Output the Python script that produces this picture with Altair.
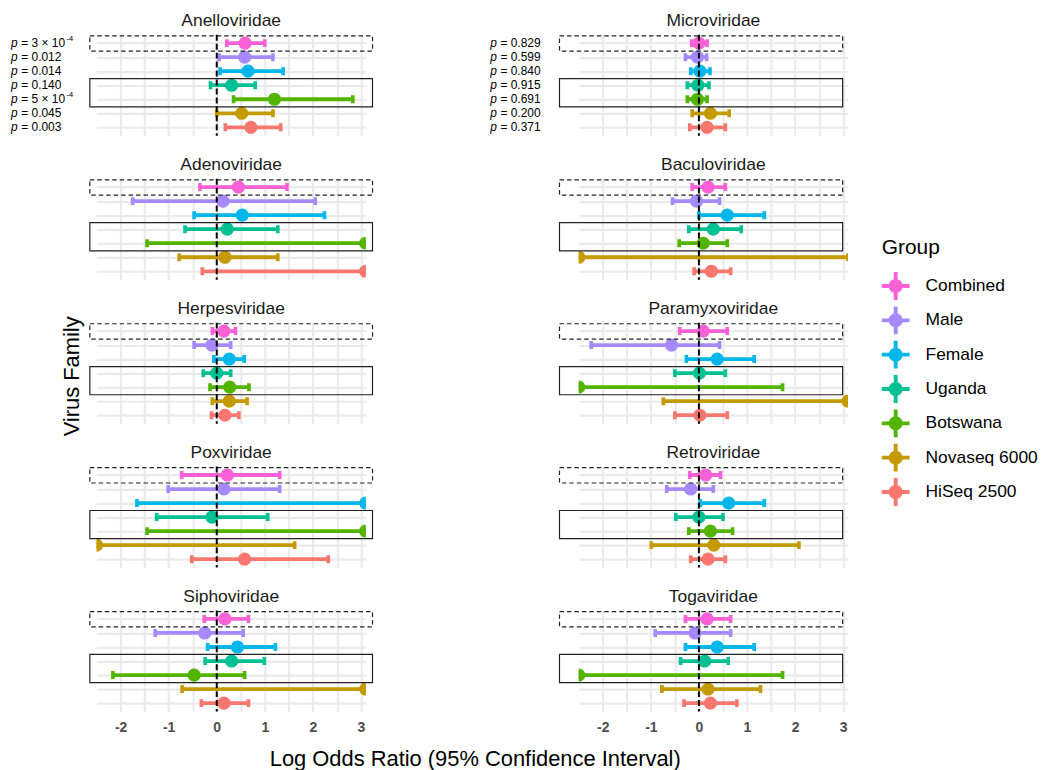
import altair as alt
import pandas as pd

FONT = "Liberation Sans"

groups = ["Combined", "Male", "Female", "Uganda", "Botswana", "Novaseq 6000", "HiSeq 2500"]
colors = ["#FB61D7", "#A58AFF", "#00B6EB", "#00C094", "#53B400", "#C49A00", "#F8766D"]

left_families = ["Anelloviridae", "Adenoviridae", "Herpesviridae", "Poxviridae", "Siphoviridae"]
right_families = ["Microviridae", "Baculoviridae", "Paramyxoviridae", "Retroviridae", "Togaviridae"]

# estimates / lower / upper (log odds ratio), order = groups; values drawn clipped to [-2.5, 3.1]
anelloviridae_est = [0.59, 0.58, 0.65, 0.31, 1.20, 0.52, 0.71]
anelloviridae_lo = [0.21, 0.05, 0.07, -0.13, 0.35, 0.00, 0.18]
anelloviridae_hi = [1.00, 1.17, 1.38, 0.80, 2.83, 1.17, 1.33]

microviridae_est = [0.00, -0.03, 0.02, -0.02, -0.03, 0.24, 0.17]
microviridae_lo = [-0.15, -0.28, -0.17, -0.24, -0.24, -0.14, -0.19]
microviridae_hi = [0.17, 0.16, 0.23, 0.21, 0.17, 0.63, 0.55]

adenoviridae_est = [0.45, 0.13, 0.53, 0.22, 3.1, 0.17, 3.1]
adenoviridae_lo = [-0.35, -1.75, -0.47, -0.66, -1.45, -0.78, -0.30]
adenoviridae_hi = [1.46, 2.05, 2.24, 1.27, 3.1, 1.27, 3.1]

baculoviridae_est = [0.19, -0.05, 0.59, 0.30, 0.09, -2.5, 0.26]
baculoviridae_lo = [-0.14, -0.55, 0.00, -0.21, -0.41, -2.5, -0.10]
baculoviridae_hi = [0.55, 0.43, 1.36, 0.88, 0.59, 3.1, 0.66]

herpesviridae_est = [0.15, -0.10, 0.26, 0.00, 0.27, 0.26, 0.17]
herpesviridae_lo = [-0.09, -0.47, -0.06, -0.28, -0.14, -0.09, -0.11]
herpesviridae_hi = [0.39, 0.29, 0.57, 0.29, 0.67, 0.63, 0.46]

paramyxoviridae_est = [0.09, -0.57, 0.38, 0.01, -2.5, 3.1, 0.02]
paramyxoviridae_lo = [-0.40, -2.24, -0.26, -0.50, -2.5, -0.74, -0.50]
paramyxoviridae_hi = [0.59, 0.43, 1.15, 0.55, 1.74, 3.1, 0.59]

poxviridae_est = [0.22, 0.15, 3.1, -0.10, 3.1, -2.5, 0.58]
poxviridae_lo = [-0.73, -1.01, -1.66, -1.25, -1.45, -2.5, -0.52]
poxviridae_hi = [1.31, 1.31, 3.1, 1.06, 3.1, 1.62, 2.32]

retroviridae_est = [0.14, -0.17, 0.62, 0.00, 0.24, 0.31, 0.19]
retroviridae_lo = [-0.19, -0.67, 0.03, -0.48, -0.21, -0.99, -0.17]
retroviridae_hi = [0.45, 0.30, 1.36, 0.50, 0.70, 2.08, 0.55]

siphoviridae_est = [0.17, -0.25, 0.43, 0.31, -0.47, 3.1, 0.15]
siphoviridae_lo = [-0.26, -1.28, -0.19, -0.24, -2.16, -0.72, -0.32]
siphoviridae_hi = [0.66, 0.55, 1.22, 0.99, 0.58, 3.1, 0.66]

togaviridae_est = [0.17, -0.08, 0.38, 0.12, -2.5, 0.19, 0.24]
togaviridae_lo = [-0.28, -0.91, -0.28, -0.38, -2.5, -0.77, -0.31]
togaviridae_hi = [0.66, 0.66, 1.15, 0.61, 1.74, 1.28, 0.79]

anelloviridae_p = ["3 × 10^-4", "0.012", "0.014", "0.140", "5 × 10^-4", "0.045", "0.003"]
microviridae_p = ["0.829", "0.599", "0.840", "0.915", "0.691", "0.200", "0.371"]

series = {
    "Anelloviridae": (anelloviridae_est, anelloviridae_lo, anelloviridae_hi),
    "Microviridae": (microviridae_est, microviridae_lo, microviridae_hi),
    "Adenoviridae": (adenoviridae_est, adenoviridae_lo, adenoviridae_hi),
    "Baculoviridae": (baculoviridae_est, baculoviridae_lo, baculoviridae_hi),
    "Herpesviridae": (herpesviridae_est, herpesviridae_lo, herpesviridae_hi),
    "Paramyxoviridae": (paramyxoviridae_est, paramyxoviridae_lo, paramyxoviridae_hi),
    "Poxviridae": (poxviridae_est, poxviridae_lo, poxviridae_hi),
    "Retroviridae": (retroviridae_est, retroviridae_lo, retroviridae_hi),
    "Siphoviridae": (siphoviridae_est, siphoviridae_lo, siphoviridae_hi),
    "Togaviridae": (togaviridae_est, togaviridae_lo, togaviridae_hi),
}
pvalues = {"Anelloviridae": anelloviridae_p, "Microviridae": microviridae_p}

n = len(groups)

W, H = 270.5, 101.5
GRID = "#EBEBEB"
xscale = alt.Scale(domain=[-2.5, 3.1], nice=False, zero=False)
yscale = alt.Scale(domain=[0.4, 7.6], nice=False, zero=False)
grid_vals = [-2.0, -1.5, -1.0, -0.5, 0.0, 0.5, 1.0, 1.5, 2.0, 2.5, 3.0]

CROSS = ("M-1,-0.14H1V0.14H-1Z M-0.14,-1H0.14V1H-0.14Z "
         "M0.5,0A0.5,0.5 0 1,1 -0.5,0A0.5,0.5 0 1,1 0.5,0Z")


def x_axis(show_labels):
    kw = dict(values=grid_vals, grid=True, gridColor=GRID, gridWidth=2.2,
              ticks=False, domain=False, title=None, labels=show_labels)
    if show_labels:
        kw.update(labelExpr="datum.value % 1 == 0 ? (datum.value < 0 ? '-' : '') + abs(datum.value) : ''",
                  labelFont=FONT, labelFontSize=14, labelFontWeight="bold",
                  labelColor="#4D4D4D", labelPadding=9.5, labelOverlap=False, labelFlush=False)
    return alt.Axis(**kw)


y_axis = alt.Axis(values=[1, 2, 3, 4, 5, 6, 7], grid=True, gridColor=GRID, gridWidth=2.2,
                  ticks=False, domain=False, labels=False, title=None)


def panel(fam, col, bottom, first):
    est, lo, hi = series[fam]
    xa = x_axis(bottom)
    d = pd.DataFrame({
        "group": groups,
        "row": [n - i for i in range(n)],
        "est": est, "lo": lo, "hi": hi,
        "hex": colors,
    })

    def X(field):
        return alt.X(field, scale=xscale, axis=xa)

    def Y(field):
        return alt.Y(field, scale=yscale, axis=y_axis)

    base = alt.Chart(d)
    bars = base.mark_rule(strokeWidth=3.8, clip=True).encode(
        x=X("lo:Q"), x2="hi:Q", y=Y("row:Q"),
        color=alt.Color("hex:N", scale=None),
    )
    caps = base.transform_fold(["lo", "hi"], as_=["end", "xv"]).mark_tick(
        orient="vertical", size=8, thickness=3.7, opacity=1, clip=True).encode(
        x=X("xv:Q"), y=Y("row:Q"),
        color=alt.Color("hex:N", scale=None),
    )
    pts = base.mark_circle(size=175, opacity=1, clip=True).encode(
        x=X("est:Q"), y=Y("row:Q"),
        color=alt.Color("group:N", scale=alt.Scale(domain=groups, range=colors),
                        legend=alt.Legend(title="Group", symbolType=CROSS, symbolSize=784,
                                          symbolStrokeWidth=0, symbolOpacity=1)),
    )
    one = alt.Chart(alt.Data(values=[{"v": 0}]))
    bx1, bx2 = (-2.64, 3.24) if col == 0 else (-2.9, 2.99)
    dashed_box = one.mark_rect(fillOpacity=0, stroke="#222222", strokeWidth=1.2,
                               strokeDash=[4.5, 3], clip=False).encode(
        x=alt.X(datum=bx1, scale=xscale, axis=xa), x2=alt.X2(datum=bx2),
        y=alt.Y(datum=6.43, scale=yscale, axis=y_axis), y2=alt.Y2(datum=7.52))
    solid_box = one.mark_rect(fillOpacity=0, stroke="#222222", strokeWidth=1.2, clip=False).encode(
        x=alt.X(datum=bx1, scale=xscale, axis=xa), x2=alt.X2(datum=bx2),
        y=alt.Y(datum=2.46, scale=yscale, axis=y_axis), y2=alt.Y2(datum=4.47))
    zero = one.mark_rule(color="black", strokeWidth=2, strokeDash=[6, 3]).encode(
        x=X("v:Q"))
    title = one.mark_text(text=fam, font=FONT, fontSize=17.5, color="#1A1A1A",
                          align="center", baseline="alphabetic").encode(
        x=alt.value(W / 2), y=alt.value(-9))
    layers = [bars, caps, pts, dashed_box, solid_box, zero, title]

    if fam in pvalues:
        x0 = -86 if col == 0 else -89
        mains, sups = [], []
        for s in pvalues[fam]:
            if "^" in s:
                m, e = s.split("^")
                mains.append("= " + m)
                sups.append(e)
            else:
                mains.append("= " + s)
                sups.append("")
        pd_ = pd.DataFrame({"row": [n - i for i in range(n)], "main": mains, "sup": sups})
        pb = alt.Chart(pd_)
        layers.append(pb.mark_text(text="p", font=FONT, fontSize=12, fontStyle="italic",
                                   align="left", baseline="middle", color="black").encode(
            x=alt.value(x0), y=Y("row:Q")))
        layers.append(pb.mark_text(font=FONT, fontSize=12, align="left", baseline="middle",
                                   color="black").encode(
            x=alt.value(x0 + 10.3), y=Y("row:Q"), text="main:N"))
        layers.append(pb.mark_text(font=FONT, fontSize=8, align="left", baseline="middle",
                                   color="black", dy=-4).encode(
            x=alt.value(x0 + 55.5), y=Y("row:Q"), text="sup:N"))

    if first:
        layers.append(one.mark_text(text="Virus Family", font=FONT, fontSize=22, color="black",
                                    angle=270, align="center", baseline="alphabetic").encode(
            x=alt.value(-18), y=alt.value(343.3)))
    if bottom and col == 0:
        layers.append(one.mark_text(text="Log Odds Ratio (95% Confidence Interval)", font=FONT,
                                    fontSize=22, color="black", align="center",
                                    baseline="alphabetic").encode(
            x=alt.value(380.5), y=alt.value(156)))

    return alt.layer(*layers).properties(width=W, height=H)


panels = []
for i in range(5):
    panels.append(panel(left_families[i], 0, i == 4, i == 0))
    panels.append(panel(right_families[i], 1, i == 4, False))

chart = alt.concat(*panels, columns=2, bounds="flush",
                   spacing=alt.RowColnumber(row=42.65, column=213.5)).properties(
    padding={"left": 3, "top": 2, "right": 0, "bottom": 0}
).configure(font=FONT).configure_view(strokeWidth=0).configure_legend(
    orient="none", legendX=789, legendY=203.5, padding=0,
    titleFont=FONT, titleFontSize=21, titleFontWeight="normal", titleColor="black",
    labelFont=FONT, labelFontSize=17.5, labelColor="black",
    rowPadding=6.5, labelOffset=16, titlePadding=14,
)

chart.save("out.html", embed_options={"renderer": "svg", "actions": False})
